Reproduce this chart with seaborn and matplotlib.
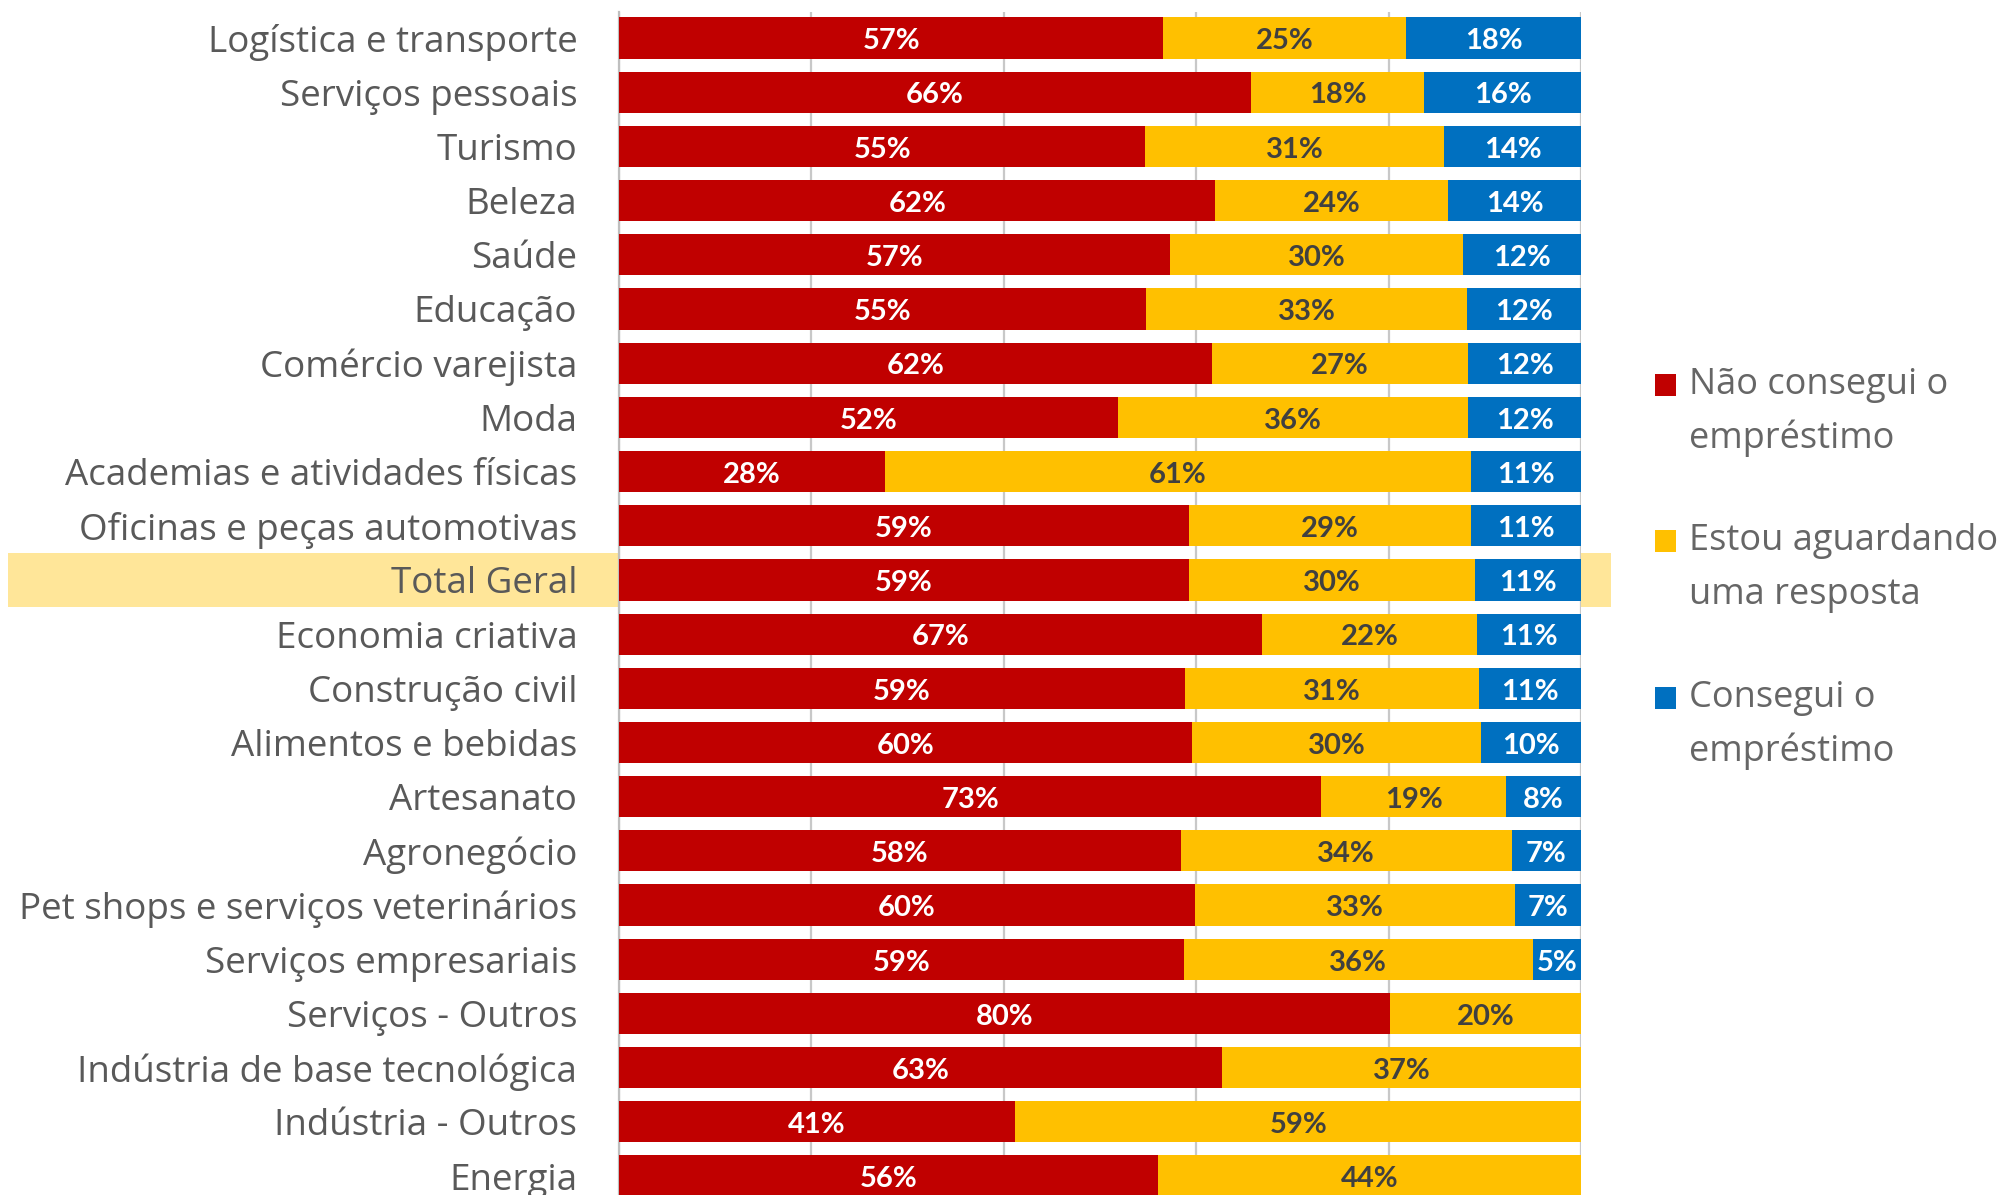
import pandas as pd
import matplotlib.pyplot as plt
import matplotlib.transforms as mtransforms
from matplotlib.patches import Rectangle
import seaborn as sns

# Data (percent of respondents per sector)
categories = [
    "Logística e transporte", "Serviços pessoais", "Turismo", "Beleza", "Saúde",
    "Educação", "Comércio varejista", "Moda", "Academias e atividades físicas",
    "Oficinas e peças automotivas", "Total Geral", "Economia criativa",
    "Construção civil", "Alimentos e bebidas", "Artesanato", "Agronegócio",
    "Pet shops e serviços veterinários", "Serviços empresariais",
    "Serviços - Outros", "Indústria de base tecnológica", "Indústria - Outros",
    "Energia",
]
nao_conseguiu = [56.6, 65.7, 54.7, 62.0, 57.3, 54.8, 61.6, 51.9, 27.6, 59.2, 59.2,
                 66.8, 58.8, 59.6, 73.0, 58.4, 59.9, 58.7, 80.1, 62.7, 41.2, 56.0]
aguardando = [25.2, 18.0, 31.1, 24.2, 30.4, 33.4, 26.7, 36.4, 61.0, 29.4, 29.8,
              22.4, 30.6, 30.0, 19.2, 34.4, 33.2, 36.3, 19.9, 37.3, 58.8, 44.0]
conseguiu = [18.2, 16.3, 14.2, 13.8, 12.3, 11.8, 11.7, 11.7, 11.4, 11.4, 11.0,
             10.8, 10.6, 10.4, 7.8, 7.2, 6.9, 5.0, 0.0, 0.0, 0.0, 0.0]
legend_labels = ["Não consegui o\nempréstimo", "Estou aguardando\numa resposta",
                 "Consegui o\nempréstimo"]
highlight = "Total Geral"

RED, YELLOW, BLUE = "#C00000", "#FFC000", "#0070C0"
GREY_TXT = "#595959"

df = pd.DataFrame({"cat": categories, "red": nao_conseguiu,
                   "yellow": aguardando, "blue": conseguiu})
df["cum_y"] = df["red"] + df["yellow"]
df["cum_b"] = df["cum_y"] + df["blue"]

sns.set_style("white")
plt.rcParams["font.family"] = ["Open Sans", "DejaVu Sans"]

W, H = 2002, 1195
fig = plt.figure(figsize=(W / 100, H / 100), dpi=100)
ax = fig.add_axes([619 / W, 0, 962 / W, 1 - 12 / H])

# stacked bars drawn as overlapping cumulative layers
for col, colr in [("cum_b", BLUE), ("cum_y", YELLOW), ("red", RED)]:
    sns.barplot(data=df, x=col, y="cat", order=categories, color=colr,
                saturation=1, width=0.76, linewidth=0, orient="h", ax=ax, zorder=3)

ax.set_xlim(0, 100)
ax.set_ylim(21.35, -0.48)
ax.set_xticks(range(0, 101, 20))
ax.xaxis.grid(True, color="#C8C8C8", linewidth=1.6, zorder=0)
ax.set_axisbelow(True)
ax.tick_params(axis="x", length=0, labelbottom=False)
ax.tick_params(axis="y", length=0, pad=30, labelsize=26.5, labelcolor=GREY_TXT)
ax.set_xlabel("")
ax.set_ylabel("")
for s in ["top", "right", "bottom"]:
    ax.spines[s].set_visible(False)
ax.spines["left"].set_color("#BFBFBF")
ax.spines["left"].set_linewidth(1.6)

# segment labels
for i, r in df.iterrows():
    segs = [(0, r["red"], "white"), (r["red"], r["yellow"], "#404040"),
            (r["cum_y"], r["blue"], "white")]
    for start, v, tc in segs:
        if v > 0:
            ax.text(start + v / 2, i + 0.06, f"{v:.0f}%", ha="center", va="center",
                    fontsize=21, fontweight="bold", color=tc, zorder=5,
                    family=["Lato", "DejaVu Sans"])

# highlighted row band
idx = categories.index(highlight)
tr = mtransforms.blended_transform_factory(fig.transFigure, ax.transData)
fig.patches.append(Rectangle((7.7 / W, idx - 0.5), (1611 - 7.7) / W, 1.0,
                             transform=tr, facecolor="#FFE699", edgecolor="none",
                             zorder=-1))

# legend
entry_y = [385, 541, 698]
for lab, colr, y0 in zip(legend_labels, [RED, YELLOW, BLUE], entry_y):
    fig.patches.append(Rectangle((1655 / W, 1 - (y0 + 11) / H), 21 / W, 22 / H,
                                 transform=fig.transFigure, facecolor=colr,
                                 edgecolor="none"))
    for k, line in enumerate(lab.split("\n")):
        fig.text(1689 / W, 1 - (y0 + k * 53.6) / H, line, ha="left",
                 va="center", fontsize=26, color="#666666")

fig.savefig("out.png", dpi=100)
